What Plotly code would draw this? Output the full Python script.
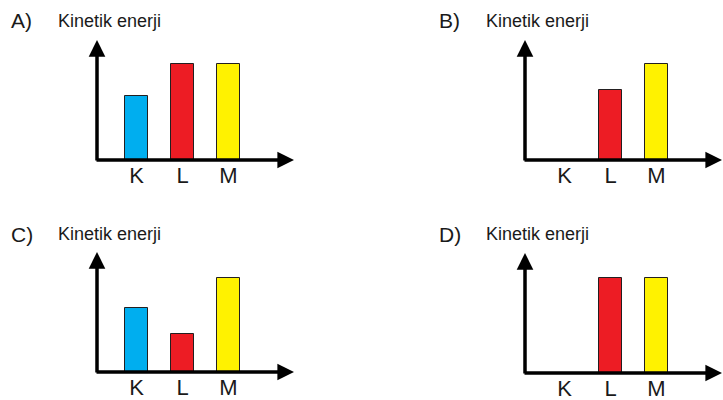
import plotly.graph_objects as go

# ---- data ----
categories = ["K", "L", "M"]
panel_letters = ["A)", "B)", "C)", "D)"]
axis_title = "Kinetik enerji"
values_A = [2.0, 3.0, 3.0]
values_B = [0.0, 2.2, 3.0]
values_C = [2.0, 1.2, 2.95]
values_D = [0.0, 2.97, 2.97]
bar_colors = ["#00aeef", "#ed1c24", "#fff200"]

panels = [values_A, values_B, values_C, values_D]

W, H = 723, 400
# panel origins in pixels (y-axis line x, baseline y)
origins = [(97, 160), (525, 160), (97, 372), (525, 373)]
AX_LEN = 198   # px, from origin to x arrow tip
AY_LEN = 120   # px, from origin to y arrow tip
K_OFF = 39.5   # px from y-axis to first category
STEP = 46.0    # px per category
PX_PER_UNIT = 32.0

fig = go.Figure()
layout = dict(
    width=W, height=H, margin=dict(l=0, r=0, t=0, b=0),
    paper_bgcolor="white", plot_bgcolor="rgba(0,0,0,0)",
    showlegend=False, bargap=0, annotations=[],
    font=dict(family="Liberation Sans, Arial, sans-serif", color="#1a1a1a"),
)

def px(x):
    return x / W

def py(y):
    return 1 - y / H

for i, (vals, (ox, oy)) in enumerate(zip(panels, origins)):
    n = "" if i == 0 else str(i + 1)
    xa, ya = "x" + n, "y" + n
    fig.add_trace(go.Bar(
        x=categories, y=vals, xaxis=xa, yaxis=ya, width=0.5,
        marker=dict(color=bar_colors, line=dict(color="#231f20", width=1)),
        hoverinfo="x+y",
    ))
    x_end = min(ox + AX_LEN, W)
    layout["xaxis" + n] = dict(
        domain=[px(ox), px(x_end)],
        range=[-K_OFF / STEP, (x_end - ox - K_OFF) / STEP],
        type="category", showgrid=False, zeroline=False, showline=False,
        ticks="", tickfont=dict(size=22, color="#1a1a1a"),
        anchor=ya, fixedrange=True,
    )
    layout["yaxis" + n] = dict(
        domain=[py(oy), py(oy - AY_LEN)],
        range=[0, AY_LEN / PX_PER_UNIT],
        showgrid=False, zeroline=False, showline=False, showticklabels=False,
        ticks="", anchor=xa, fixedrange=True,
    )
    # x axis arrow
    layout["annotations"].append(dict(
        x=px(x_end - 1), y=py(oy), xref="paper", yref="paper",
        ax=-(x_end - 1 - ox + 2), ay=0, axref="pixel", ayref="pixel",
        text="", showarrow=True, arrowhead=2, arrowsize=0.95, arrowwidth=3.5,
        arrowcolor="#000000", startstandoff=0, standoff=0,
    ))
    # y axis arrow
    layout["annotations"].append(dict(
        x=px(ox), y=py(oy - AY_LEN), xref="paper", yref="paper",
        ax=0, ay=AY_LEN + 2, axref="pixel", ayref="pixel",
        text="", showarrow=True, arrowhead=2, arrowsize=0.95, arrowwidth=3.5,
        arrowcolor="#000000", startstandoff=0, standoff=0,
    ))
    # panel letter & title
    ty = 21 if i < 2 else 234
    layout["annotations"].append(dict(
        x=px(ox - 88), y=py(ty), xref="paper", yref="paper",
        text=panel_letters[i], showarrow=False, xanchor="left", yanchor="middle",
        font=dict(size=21, color="#1a1a1a"),
    ))
    layout["annotations"].append(dict(
        x=px(ox - 41), y=py(ty), xref="paper", yref="paper",
        text=axis_title, showarrow=False, xanchor="left", yanchor="middle",
        font=dict(size=18, color="#1a1a1a"),
    ))

fig.update_layout(**layout)
fig.write_html(
    "out.html", config={"displayModeBar": False},
    post_script="document.body.style.margin='0';document.body.style.padding='0';",
)
